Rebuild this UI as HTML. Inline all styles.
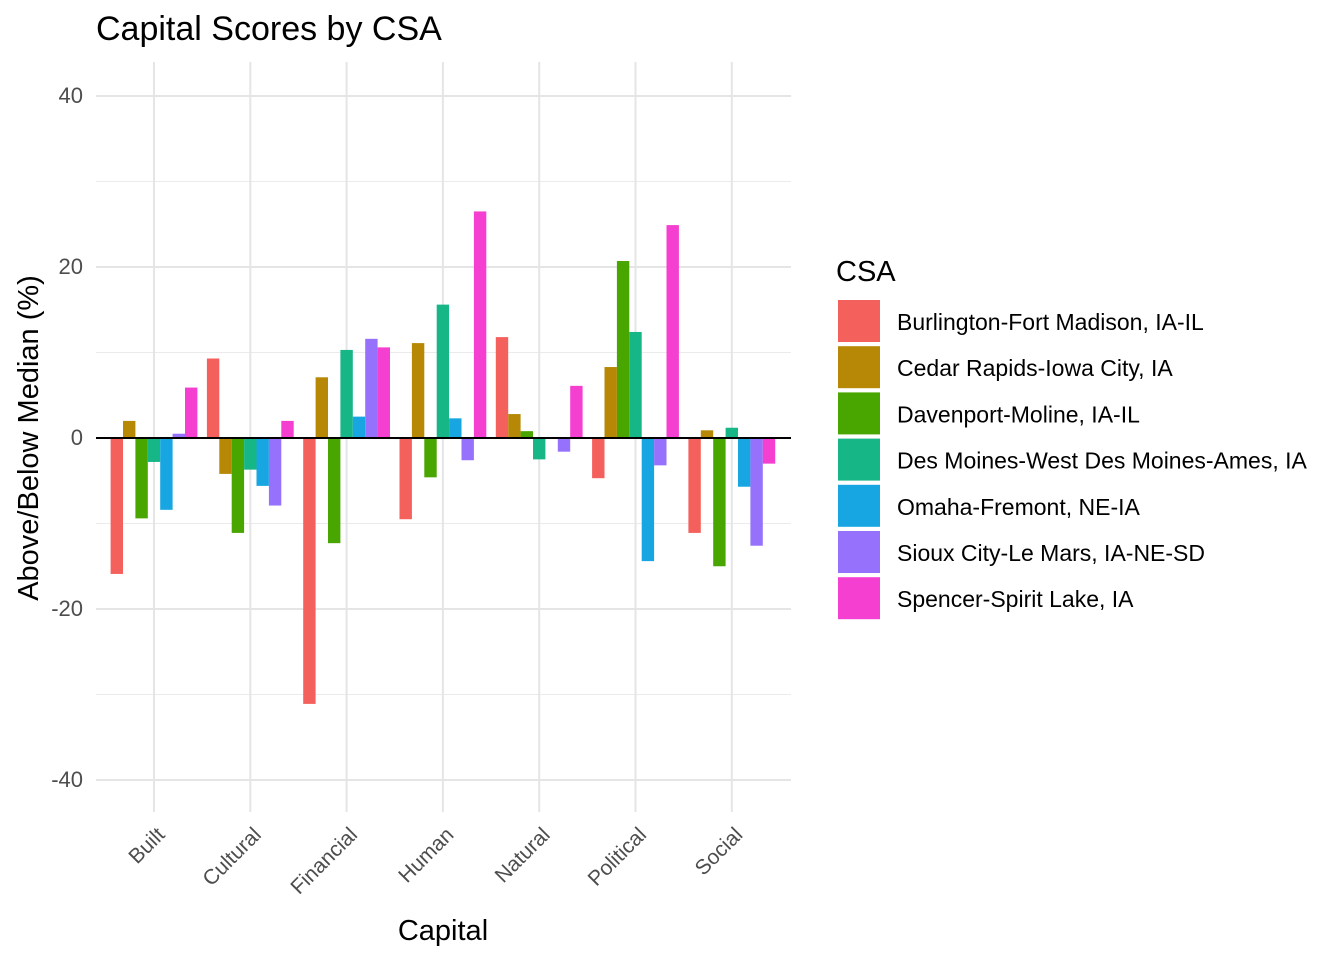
<!DOCTYPE html>
<html><head><meta charset="utf-8"><style>
body{margin:0;background:#fff;font-family:"Liberation Sans",sans-serif;}
svg text{font-family:"Liberation Sans",sans-serif;}
</style></head><body>
<svg id="c" width="1344" height="960"></svg>
<script>
const categories=["Built","Cultural","Financial","Human","Natural","Political","Social"];
const seriesNames=["Burlington-Fort Madison, IA-IL","Cedar Rapids-Iowa City, IA","Davenport-Moline, IA-IL","Des Moines-West Des Moines-Ames, IA","Omaha-Fremont, NE-IA","Sioux City-Le Mars, IA-NE-SD","Spencer-Spirit Lake, IA"];
const colors=["#F4605C","#B78806","#49A600","#17B686","#17A6E2","#9672FC","#F53FD1"];
const burlington=[-15.9,9.3,-31.1,-9.5,11.8,-4.7,-11.1];
const cedar=[2.0,-4.2,7.1,11.1,2.8,8.3,0.9];
const davenport=[-9.4,-11.1,-12.3,-4.6,0.8,20.7,-15.0];
const desmoines=[-2.8,-3.7,10.3,15.6,-2.5,12.4,1.2];
const omaha=[-8.4,-5.6,2.5,2.3,0,-14.4,-5.7];
const sioux=[0.5,-7.9,11.6,-2.6,-1.6,-3.2,-12.6];
const spencer=[5.9,2.0,10.6,26.5,6.1,24.9,-3.0];
const series=[burlington,cedar,davenport,desmoines,omaha,sioux,spencer];
const yTicks=[-40,-20,0,20,40];
const yMinor=[-30,-10,10,30];
const NS="http://www.w3.org/2000/svg";
const svg=document.getElementById('c');
function el(t,a,p){const e=document.createElementNS(NS,t);for(const k in a)e.setAttribute(k,a[k]);(p||svg).appendChild(e);return e;}
const px0=96,px1=791,py0=62,py1=812;
const y=v=>438-v*8.55;
const x=i=>154+i*96.3;
const bw=12.4;
const grid=el('g',{});
yMinor.forEach(v=>el('line',{x1:px0,x2:px1,y1:y(v),y2:y(v),stroke:'#ebebeb','stroke-width':1},grid));
yTicks.forEach(v=>el('line',{x1:px0,x2:px1,y1:y(v),y2:y(v),stroke:'#e5e5e5','stroke-width':2},grid));
categories.forEach((c,i)=>el('line',{x1:x(i),x2:x(i),y1:py0,y2:py1,stroke:'#e5e5e5','stroke-width':2},grid));
series.forEach((s,j)=>{s.forEach((v,i)=>{
 const r=el('rect',{x:x(i)+(j-3.5)*bw,y:Math.min(y(v),y(0)),width:bw,height:Math.abs(y(v)-y(0)),fill:colors[j]});
 
 
});});
const zl=el('line',{x1:px0,x2:px1,y1:y(0),y2:y(0),stroke:'#000','stroke-width':2});

yTicks.forEach(v=>{const t=el('text',{x:83,y:y(v)+7,'text-anchor':'end','font-size':22,fill:'#4d4d4d'});t.textContent=v;
});
categories.forEach((c,i)=>{const t=el('text',{x:x(i)+12,y:836,'text-anchor':'end','font-size':21,fill:'#4d4d4d',transform:`rotate(-45 ${x(i)+12} 836)`});t.textContent=c;
});
let t=el('text',{x:96,y:40,'font-size':34,fill:'#000'});t.textContent='Capital Scores by CSA';

t=el('text',{x:443,y:940,'text-anchor':'middle','font-size':29,fill:'#000'});t.textContent='Capital';

t=el('text',{x:0,y:0,'text-anchor':'middle','font-size':29,fill:'#000',transform:'translate(38 438) rotate(-90)'});t.textContent='Above/Below Median (%)';

t=el('text',{x:836,y:281,'font-size':29,fill:'#000'});t.textContent='CSA';

seriesNames.forEach((n,j)=>{const g=el('g',{});
 
 el('rect',{x:838,y:300+j*46.2,width:42,height:42,fill:colors[j]},g);
 const tt=el('text',{x:897,y:330+j*46.2,'font-size':23,fill:'#000'},g);tt.textContent=n;});
</script>
</body></html>
